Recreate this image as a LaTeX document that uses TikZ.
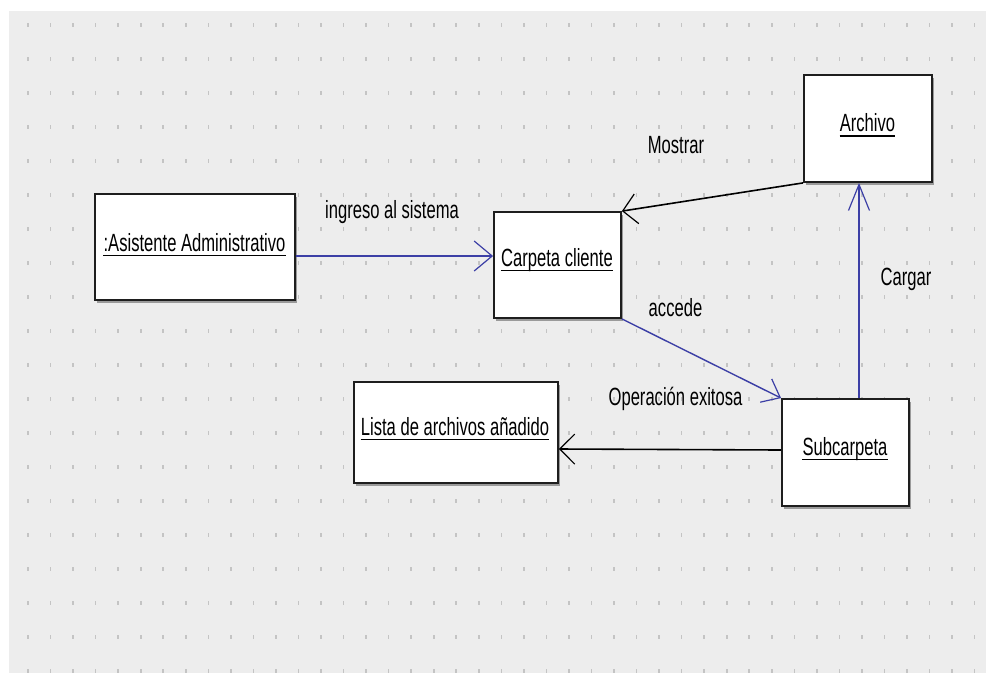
\documentclass[tikz,border=0pt]{standalone}
\usepackage{fontspec}
\setmainfont{Liberation Sans}
\usepackage{graphicx}
\usetikzlibrary{arrows.meta,shadows}
\definecolor{bgray}{HTML}{EDEDED}
\definecolor{dotc}{HTML}{C4C4C4}
\definecolor{lblue}{HTML}{3C3FA6}
\definecolor{boxc}{HTML}{1E1E1E}
\tikzset{
  objbox/.style={draw=boxc,line width=1.8pt,fill=white,inner sep=0,
    drop shadow={shadow xshift=1.5pt,shadow yshift=-3pt,opacity=0.35,fill=black}},
  lbl/.style={inner sep=0,anchor=base,font=\fontsize{16.6pt}{18pt}\selectfont},
  bluecon/.style={draw=lblue,line width=1.4pt},
  blackcon/.style={draw=black,line width=1.6pt},
  uline/.style={line width=1.4pt,draw=black},
}
\newcommand{\vs}[1]{\scalebox{1}[1.5]{#1}}
\begin{document}
\begin{tikzpicture}[x=1pt,y=-1pt]
\useasboundingbox (0,0) rectangle (986,673);
\fill[white] (0,0) rectangle (986,673);
\fill[bgray] (9,11) rectangle (986,673);
\foreach \i in {0,...,42}{
  \foreach \j in {0,...,19}{
    \fill[dotc] ({28+22.54*\i-0.8},{25+34*\j-1.6}) rectangle ++(1.6,3.2);
  }
}
% boxes
\node[objbox,minimum width=200pt,minimum height=106pt] (asis) at (195,247) {};
\node[objbox,minimum width=127pt,minimum height=106pt] (carp) at (557.5,265) {};
\node[objbox,minimum width=128pt,minimum height=107pt] (arch) at (868,128.5) {};
\node[objbox,minimum width=204pt,minimum height=101pt] (lista) at (456,432.5) {};
\node[objbox,minimum width=127pt,minimum height=107pt] (sub) at (845.5,452.5) {};
% box labels
\node[lbl] (tasis) at (194.5,251) {\vs{:Asistente Administrativo}};
\node[lbl] (tcarp) at (557,266) {\vs{Carpeta cliente}};
\node[lbl] (tarch) at (867.5,131.5) {\vs{Archivo}};
\node[lbl] (tlista) at (455,435) {\vs{Lista de archivos añadido}};
\node[lbl] (tsub) at (845,455) {\vs{Subcarpeta}};
\foreach \n in {tasis,tcarp,tarch,tlista,tsub}{
  \draw[uline] ([yshift=-4.5pt]\n.base west) -- ([yshift=-4.5pt]\n.base east);
}
% connectors
\draw[bluecon,-{Straight Barb[length=18pt,width=30pt,line width=1.2pt]}]
  ([yshift=-9pt]asis.east) -- ([yshift=9pt]carp.west);
\draw[blackcon,-{Straight Barb[length=14pt,width=30pt,line width=1.2pt]}]
  (arch.south west) -- (carp.north east);
\draw[bluecon,-{Straight Barb[length=16pt,width=26pt,line width=1.2pt]}]
  (carp.south east) -- (sub.north west);
\draw[bluecon,-{Straight Barb[length=26pt,width=21pt,line width=1.2pt]}]
  ([xshift=13.5pt]sub.north) -- ([xshift=-9pt]arch.south);
\draw[blackcon,-{Straight Barb[length=15pt,width=30pt,line width=1.2pt]}]
  ([yshift=2.5pt]sub.west) -- ([yshift=-16.5pt]lista.east);
% connector labels
\node[lbl] (lingreso) at (392,218) {\vs{ingreso al sistema}};
\node[lbl] (lmostrar) at (676,153) {\vs{Mostrar}};
\node[lbl] (laccede) at (675.5,316) {\vs{accede}};
\node[lbl] (loper) at (675.5,405) {\vs{Operación exitosa}};
\node[lbl] (lcargar) at (906,285) {\vs{Cargar}};
\end{tikzpicture}
\end{document}
